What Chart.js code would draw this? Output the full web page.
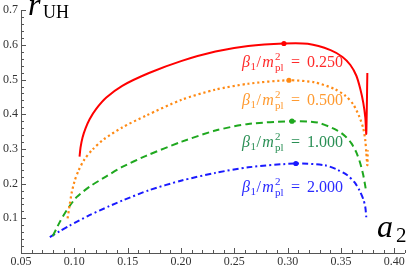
<!DOCTYPE html>
<html>
<head>
<meta charset="utf-8">
<script src="https://cdn.jsdelivr.net/npm/chart.js@4.4.1/dist/chart.umd.min.js"></script>
<style>
  html, body { margin: 0; padding: 0; background: #fff; }
  #wrap { width: 409px; height: 266px; }
</style>
</head>
<body>
<div id="wrap"><canvas id="chart" width="409" height="266"></canvas></div>
<script>
// values: a2 on x, r_UH on y
const aRed = [0.1049, 0.1058, 0.1077, 0.1105, 0.1142, 0.1207, 0.130, 0.1449, 0.170, 0.2007, 0.2323, 0.263, 0.2965, 0.3188, 0.3402, 0.3514, 0.3588, 0.3644, 0.3681, 0.3709, 0.3728, 0.3737, 0.3747];
const rRed = [0.278, 0.304, 0.333, 0.359, 0.385, 0.416, 0.448, 0.482, 0.519, 0.554, 0.581, 0.597, 0.604, 0.603, 0.585, 0.565, 0.542, 0.511, 0.473, 0.433, 0.390, 0.344, 0.519];

const aOrange = [0.0937, 0.0956, 0.0974, 0.1002, 0.1040, 0.1095, 0.1170, 0.1272, 0.1449, 0.1672, 0.2007, 0.2323, 0.263, 0.3012, 0.3253, 0.3440, 0.3542, 0.3616, 0.3672, 0.3709, 0.3728, 0.3737, 0.3747, 0.3751];
const rOrange = [0.100, 0.138, 0.172, 0.207, 0.238, 0.270, 0.298, 0.327, 0.362, 0.396, 0.442, 0.471, 0.488, 0.498, 0.492, 0.473, 0.453, 0.428, 0.393, 0.359, 0.324, 0.290, 0.253, 0.296];

const aGreen = [0.0798, 0.0863, 0.0928, 0.1021, 0.1142, 0.130, 0.1449, 0.1672, 0.2007, 0.2323, 0.263, 0.304, 0.3281, 0.3467, 0.3542, 0.3598, 0.3644, 0.3681, 0.3709, 0.3728, 0.3737];
const rGreen = [0.049, 0.089, 0.123, 0.161, 0.191, 0.221, 0.248, 0.280, 0.321, 0.353, 0.372, 0.380, 0.376, 0.353, 0.336, 0.316, 0.290, 0.258, 0.224, 0.192, 0.175];

const aBlue = [0.077, 0.0863, 0.0956, 0.1142, 0.1328, 0.1449, 0.170, 0.2007, 0.2323, 0.263, 0.3077, 0.3347, 0.3467, 0.3560, 0.3626, 0.3672, 0.3709, 0.3728, 0.3737];
const rBlue = [0.046, 0.063, 0.079, 0.109, 0.135, 0.151, 0.181, 0.209, 0.231, 0.247, 0.258, 0.253, 0.240, 0.224, 0.204, 0.181, 0.155, 0.132, 0.103];

// marked maxima, one per curve
const peakA = [0.2965, 0.3012, 0.304, 0.3077];
const peakR = [0.604, 0.498, 0.380, 0.258];

const betaLabels = ['0.250', '0.500', '1.000', '2.000'];
const xTicks = [0.05, 0.10, 0.15, 0.20, 0.25, 0.30, 0.35, 0.40];
const yTicks = [0.1, 0.2, 0.3, 0.4, 0.5, 0.6, 0.7];

const lineColors = ['#ff0000', '#ff8a14', '#1fa81f', '#1a1aff'];
const textColors = ['#ff2a2a', '#ff9a30', '#2a8f55', '#2a2aff'];
const dashes = [[], [2.2, 2.8], [7, 4], [6, 3, 2, 3]];

const serif = '"Liberation Serif", "DejaVu Serif", serif';

function pts(xs, ys) { return xs.map((x, i) => ({ x: x, y: ys[i] })); }

const curves = [pts(aRed, rRed), pts(aOrange, rOrange), pts(aGreen, rGreen), pts(aBlue, rBlue)];

const datasets = curves.map((d, i) => ({
  data: d,
  borderColor: lineColors[i],
  borderWidth: i === 1 ? 2.2 : 2,
  borderDash: dashes[i],
  borderCapStyle: 'butt',
  pointRadius: 0,
  tension: 0.25,
  showLine: true,
  fill: false
}));
peakA.forEach((a, i) => datasets.push({
  data: [{ x: a, y: peakR[i] }],
  showLine: false,
  pointRadius: 2.6,
  pointBorderWidth: 0,
  pointBackgroundColor: lineColors[i],
  pointBorderColor: lineColors[i]
}));

// beta_1 / m_pl^2 = value, right aligned at xr on baseline yb
function drawBeta(ctx, value, xr, yb, color) {
  const fBig = 'italic 16px ' + serif;
  const fUp = '16px ' + serif;
  const fSmall = '11px ' + serif;
  const parts = [
    { t: '\u03B2', f: fBig, dy: 0, padR: 0.5 },
    { t: '1', f: fSmall, dy: 3, padR: 0.5 },
    { t: '/', f: fUp, dy: 0, padR: 1.5 },
    { t: 'm', f: fBig, dy: 0, padR: 0.5 },
    { stack: true },
    { t: '=', f: fUp, dy: 0, padL: 7, padR: 7 },
    { t: value, f: fUp, dy: 0 }
  ];
  ctx.save();
  ctx.fillStyle = color;
  ctx.textBaseline = 'alphabetic';
  let w = 0;
  parts.forEach(p => {
    if (p.stack) {
      ctx.font = fSmall;
      p.w = Math.max(ctx.measureText('2').width, ctx.measureText('pl').width) + 1;
    } else {
      ctx.font = p.f;
      p.w = ctx.measureText(p.t).width + (p.padL || 0) + (p.padR || 0);
    }
    w += p.w;
  });
  let x = xr - w;
  parts.forEach(p => {
    if (p.stack) {
      ctx.font = fSmall;
      ctx.fillText('2', x + 0.5, yb - 7);
      ctx.fillText('pl', x + 0.5, yb + 4);
    } else {
      ctx.font = p.f;
      ctx.fillText(p.t, x + (p.padL || 0), yb + p.dy);
    }
    x += p.w;
  });
  ctx.restore();
}

const decorations = {
  id: 'decorations',
  afterDraw(chart) {
    const ctx = chart.ctx;
    const xs = chart.scales.x, ys = chart.scales.y;
    const area = chart.chartArea;
    ctx.save();
    ctx.strokeStyle = '#555';
    ctx.lineWidth = 1;
    // axes
    ctx.beginPath();
    ctx.moveTo(area.left + 0.5, area.top);
    ctx.lineTo(area.left + 0.5, area.bottom + 0.5);
    ctx.lineTo(area.right, area.bottom + 0.5);
    ctx.stroke();
    // ticks pointing inward
    ctx.beginPath();
    for (let k = 5; k <= 41; k++) {
      const px = Math.round(xs.getPixelForValue(k / 100)) + 0.5;
      const len = k % 5 === 0 ? 5 : 3;
      ctx.moveTo(px, area.bottom);
      ctx.lineTo(px, area.bottom - len);
    }
    for (let k = 0; k <= 35; k++) {
      const py = Math.round(ys.getPixelForValue(k / 50)) + 0.5;
      const len = k % 5 === 0 ? 5 : 3;
      ctx.moveTo(area.left, py);
      ctx.lineTo(area.left + len, py);
    }
    ctx.stroke();

    // axis titles
    ctx.fillStyle = '#000';
    ctx.textBaseline = 'alphabetic';
    ctx.font = 'italic 32px ' + serif;
    ctx.fillText('r', 28, 15);
    ctx.font = '18px ' + serif;
    ctx.fillText('UH', 43, 18);
    ctx.font = 'italic 32px ' + serif;
    ctx.fillText('a', 377, 237);
    ctx.font = '21px ' + serif;
    ctx.fillText('2', 396, 242);
    ctx.restore();

    // curve labels
    const baselines = [67, 105, 147, 192];
    betaLabels.forEach((v, i) => drawBeta(ctx, v, 343, baselines[i], textColors[i]));
  }
};

new Chart(document.getElementById('chart'), {
  type: 'scatter',
  data: { datasets: datasets },
  options: {
    responsive: false,
    animation: false,
    events: [],
    layout: { padding: { top: 9, right: 1, left: 0, bottom: 0 } },
    plugins: { legend: { display: false }, tooltip: { enabled: false } },
    scales: {
      x: {
        type: 'linear',
        min: 0.05,
        max: 0.41,
        afterBuildTicks: s => { s.ticks = xTicks.map(v => ({ value: v })); },
        afterFit: s => { s.height = 13; },
        grid: { display: false, drawTicks: false },
        border: { display: false },
        ticks: {
          autoSkip: false,
          maxRotation: 0,
          padding: 2,
          color: '#333',
          font: { family: serif, size: 12 },
          callback: v => v.toFixed(2)
        }
      },
      y: {
        type: 'linear',
        min: 0,
        max: 0.7,
        afterBuildTicks: s => { s.ticks = yTicks.map(v => ({ value: v })); },
        afterFit: s => { s.width = 21; },
        grid: { display: false, drawTicks: false },
        border: { display: false },
        ticks: {
          padding: 3,
          color: '#333',
          font: { family: serif, size: 12 },
          callback: v => v.toFixed(1)
        }
      }
    }
  },
  plugins: [decorations]
});
</script>
</body>
</html>
